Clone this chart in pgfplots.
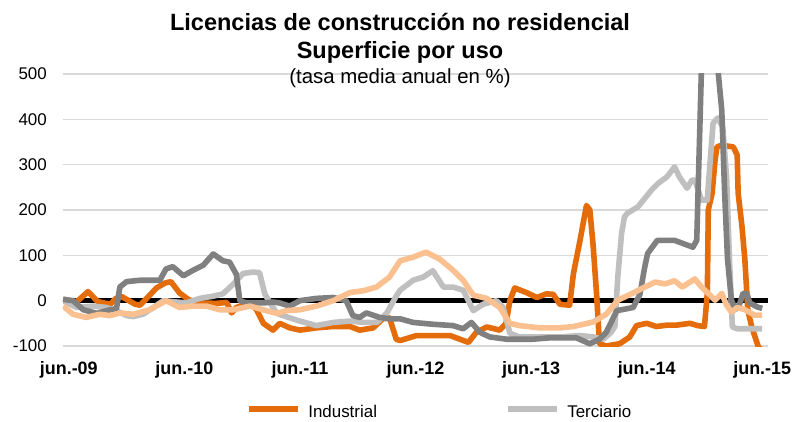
\documentclass[border=0pt]{standalone}
\usepackage{fontspec}
\setmainfont{Liberation Sans}
\usepackage{pgfplots}
\pgfplotsset{compat=1.18}
\definecolor{ind}{HTML}{E46C0A}
\definecolor{ter}{HTML}{BFBFBF}
\definecolor{dg}{HTML}{808080}
\definecolor{lo}{HTML}{FAC090}
\definecolor{gridc}{HTML}{D9D9D9}
\begin{document}
\begin{tikzpicture}[x=1bp,y=1bp]
\begin{axis}[
  at={(0,0)}, anchor=south west,
  scale only axis, width=705bp, height=272bp,
  xmin=-0.6, xmax=72.6, ymin=-100, ymax=500,
  axis line style={draw=none},
  major tick length=0pt,
  xtick={0,12,...,72},
  xticklabels={jun.-09,jun.-10,jun.-11,jun.-12,jun.-13,jun.-14,jun.-15},
  xticklabel style={font=\fontsize{18}{18}\selectfont\bfseries, inner sep=0pt, anchor=north, yshift=-15bp},
  ytick={-100,0,100,200,300,400,500},
  yticklabels={-100,0,100,200,300,400,500},
  yticklabel style={font=\fontsize{17}{17}\selectfont, inner sep=0pt, anchor=east, xshift=-16bp},
  ymajorgrids, grid style={gridc, line width=1.5bp},
  clip=true,
  every axis plot/.append style={line join=round},
  legend columns=2,
  legend style={draw=none, fill=none, inner sep=0pt, outer sep=0pt,
    at={(axis description cs:0.2596,-0.2437)}, anchor=west,
    font=\fontsize{17}{17}\selectfont, nodes={inner sep=0pt},
    /tikz/every odd column/.append style={column sep=8bp},
    /tikz/every even column/.append style={column sep=128bp}},
  legend image code/.code={\draw[#1, line width=5.3bp, line cap=butt] (0bp,3.3bp) -- (49bp,3.3bp);},
]
\addplot[black, line width=4.5bp, forget plot] coordinates {(-0.6,0) (72.6,0)};
% Industrial
\addplot[ind, line width=5.6bp] coordinates {
(-0.59,3) (0.8,-3) (2.0,20) (3.0,-2) (4.3,-8) (4.9,5) (5.5,9) (6.9,-8) (7.4,-10) (8.4,12) (9.1,28) (10.0,39) (10.6,42) (11.5,17) (12.4,3) (13.4,-5) (15.3,-6) (16.4,-4) (16.9,-27) (17.4,-15) (18.8,-5) (19.5,-20) (20.2,-50) (21.2,-65) (21.9,-50) (22.95,-60) (24.0,-65) (25.7,-60) (27.45,-57) (29.2,-57) (30.2,-65) (31.6,-60) (32.6,-40) (33.3,-38) (34.0,-85) (34.4,-88) (36.1,-77) (39.6,-77) (40.6,-85) (41.5,-92) (42.3,-70) (43.4,-58) (44.75,-65) (45.4,-50) (45.8,0) (46.3,28) (47.5,18) (48.6,7) (49.6,15) (50.3,14) (51.0,-8) (52.0,-10) (52.4,60) (53.1,135) (53.75,210) (54.1,200) (54.45,120) (54.8,15) (55.1,-95) (55.8,-100) (57.2,-95) (58.25,-80) (58.95,-55) (60.0,-50) (61.0,-57) (62.1,-54) (63.1,-54) (64.5,-50) (65.3,-55) (66.0,-57) (66.3,16) (66.4,200) (66.8,237) (67.1,310) (67.3,339) (67.8,343) (69.0,339) (69.4,321) (69.5,237) (69.9,163) (70.2,90) (70.5,-20) (70.9,-57) (71.6,-102) (72,-110)};
% Terciario
\addplot[ter, line width=5.6bp] coordinates {
(-0.59,0) (0.8,-15) (2.5,-12) (3.9,-15) (4.95,-22) (6.0,-33) (6.7,-35) (7.7,-30) (8.8,-15) (9.8,0) (11.2,-3) (12.2,-5) (13.6,5) (15.0,10) (16.0,15) (17.1,37) (18.1,60) (19.1,63) (19.8,62) (20.35,15) (20.9,-5) (21.6,-28) (22.95,-38) (24.0,-45) (25.7,-55) (27.45,-48) (29.2,-45) (30.6,-48) (32.0,-48) (33.0,-28) (34.0,10) (34.4,23) (35.75,45) (36.8,52) (37.8,66) (38.9,30) (39.9,30) (40.95,23) (42.0,-22) (43.0,-8) (44.4,0) (45.1,-15) (45.8,-72) (46.8,-80) (48.9,-80) (51.0,-80) (53.1,-77) (54.45,-80) (55.5,-85) (56.3,-70) (56.7,-57) (57.0,52) (57.4,149) (57.7,185) (58.0,193) (59.1,207) (60.5,244) (61.2,259) (62.1,273) (62.9,295) (63.4,273) (64.2,248) (64.7,266) (65.0,266) (65.7,222) (66.3,222) (66.6,310) (66.9,392) (67.4,403) (67.9,383) (68.3,273) (68.6,90) (68.9,-58) (69.4,-62) (72,-62)};
% dark grey
\addplot[dg, line width=5.6bp, forget plot] coordinates {
(-0.59,3) (0.45,0) (1.5,-20) (2.9,-28) (4.3,-20) (4.95,-18) (5.3,30) (6.0,42) (7.4,45) (9.45,45) (10.1,70) (10.8,75) (11.9,55) (12.9,67) (13.95,78) (15.0,103) (16.0,88) (16.7,85) (17.4,58) (17.76,0) (18.45,-5) (20.2,-5) (21.2,-3) (21.9,-5) (22.95,-12) (24.0,0) (25.7,5) (27.45,7) (28.8,0) (29.5,-33) (30.2,-37) (30.9,-27) (32.3,-37) (33.3,-40) (34.4,-40) (35.75,-48) (37.8,-52) (39.9,-55) (40.95,-62) (41.8,-48) (42.7,-70) (43.7,-80) (45.45,-85) (48.2,-85) (49.95,-82) (52.7,-82) (54.1,-95) (55.1,-85) (55.8,-70) (56.9,-22) (57.9,-18) (58.6,-15) (59.3,14) (59.8,74) (60.1,104) (61.1,133) (62.9,133) (64.8,118) (65.2,133) (65.7,520) (66.3,640) (66.9,640) (67.4,510) (67.8,420) (68.1,237) (68.4,90) (68.8,1) (69.2,-20) (69.7,-5) (70.0,16) (70.4,16) (70.7,-5) (71.5,-14) (72,-17)};
% light orange
\addplot[lo, line width=5.6bp, forget plot] coordinates {
(-0.59,-12) (0.45,-30) (1.8,-37) (3.2,-30) (4.3,-33) (5.3,-27) (6.7,-30) (8.4,-20) (10.1,0) (11.5,-15) (12.9,-12) (14.3,-12) (15.7,-20) (17.1,-20) (18.8,-12) (20.5,-22) (21.6,-28) (22.6,-22) (24.0,-20) (25.7,-12) (27.45,0) (29.2,18) (30.6,22) (31.95,30) (33.3,52) (34.4,88) (35.75,96) (37.1,107) (38.5,92) (39.9,67) (40.95,45) (42.0,12) (43.4,5) (44.75,-15) (45.8,-50) (46.8,-55) (48.9,-60) (51.0,-60) (52.4,-57) (54.45,-47) (55.8,-30) (57.0,1) (58.5,16) (59.8,30) (60.9,41) (61.9,37) (62.9,44) (63.7,30) (65.0,48) (65.7,30) (66.6,12) (67.1,1) (67.8,16) (68.3,-10) (68.8,-25) (69.4,-15) (70.2,-20) (71.2,-32) (72,-32)};
\legend{Industrial,Terciario}
\end{axis}
\node[anchor=base, font=\fontsize{23.6}{24}\selectfont\bfseries] at (337,315.3) {Licencias de construcción no residencial};
\node[anchor=base, font=\fontsize{23.6}{24}\selectfont\bfseries] at (337,288) {Superficie por uso};
\node[anchor=base, font=\fontsize{20.5}{21}\selectfont] at (337,263) {(tasa media anual en \%)};
\pgfresetboundingbox
\path (-63,-75) rectangle (732,346);
\end{tikzpicture}
\end{document}
